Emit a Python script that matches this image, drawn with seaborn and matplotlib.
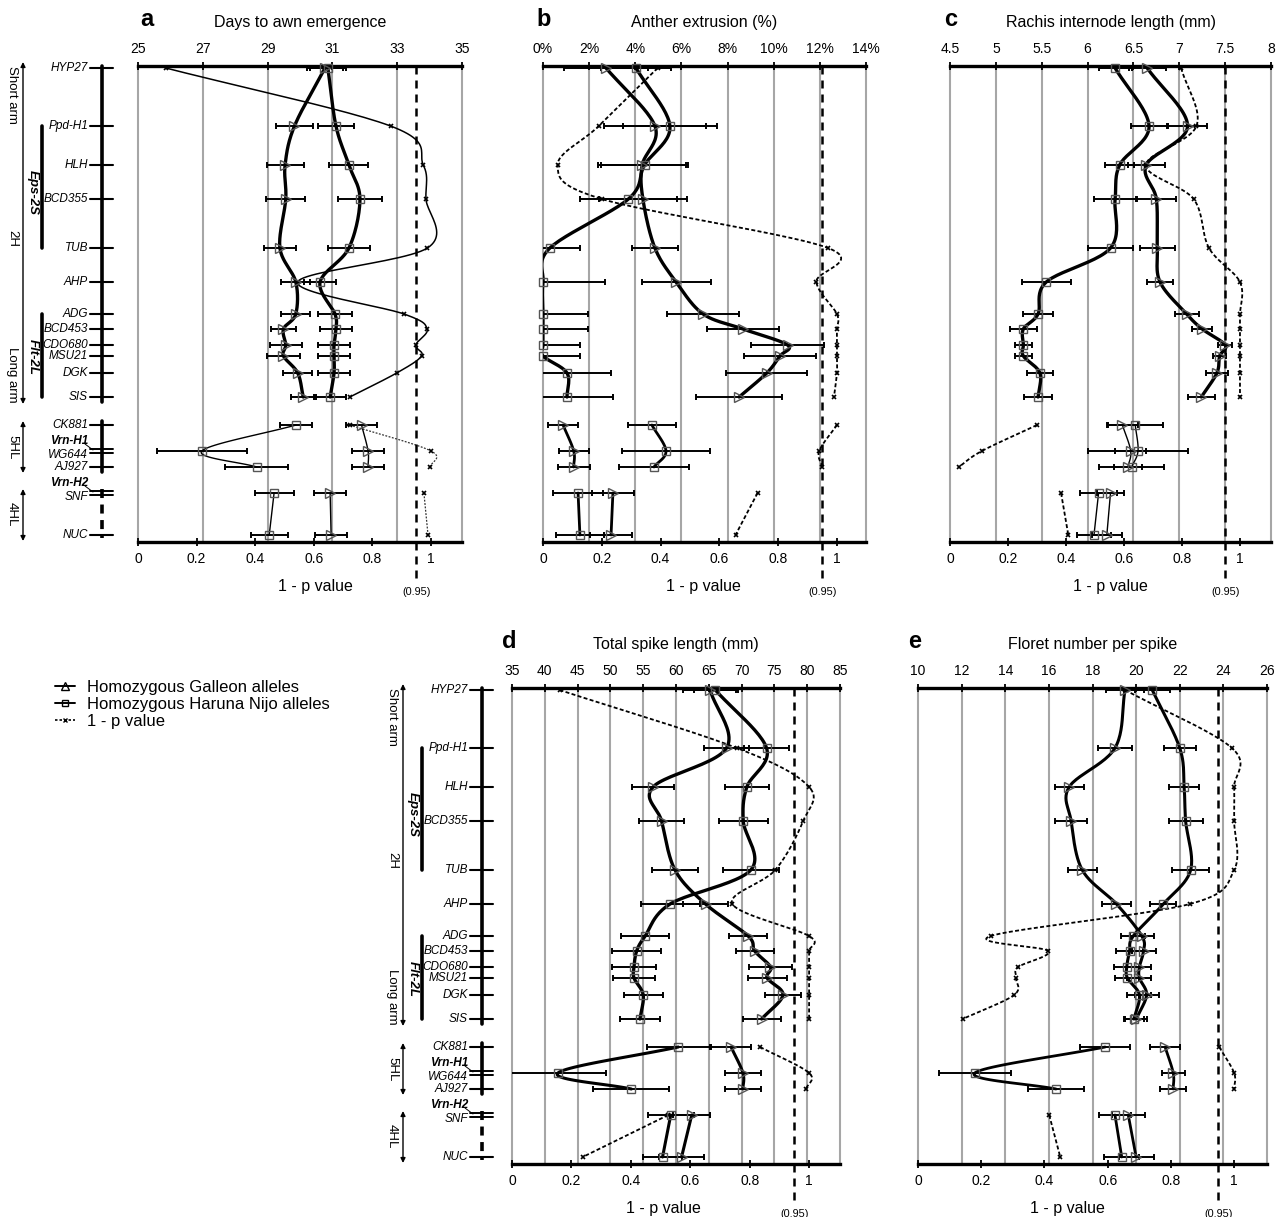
import numpy as np
import matplotlib
matplotlib.use("Agg")
import matplotlib.pyplot as plt
import seaborn as sns
from matplotlib.lines import Line2D
from matplotlib.transforms import blended_transform_factory

sns.set_theme(style="white")
plt.rcParams["font.family"] = ["Liberation Sans", "DejaVu Sans"]
plt.rcParams.update({"text.color": "black", "xtick.color": "black",
                     "axes.labelcolor": "black"})

# ---------------- data ----------------
markers = ["HYP27", "Ppd-H1", "HLH", "BCD355", "TUB", "AHP", "ADG", "BCD453",
           "CDO680", "MSU21", "DGK", "SIS", "CK881", "WG644", "AJ927", "SNF", "NUC"]
marker_pos = [0, 58, 97, 131, 180, 214, 246, 261, 277, 288, 305, 329,
              357, 383, 399, 425, 467]
groups = [(0, 12), (12, 15), (15, 17)]  # 2H, 5HL, 4HL

# a: Days to awn emergence
a_galleon = [30.77, 29.83, 29.54, 29.56, 29.38, 29.87, 29.87, 29.49, 29.56, 29.49, 29.93, 30.10,
             31.90, 32.10, 32.10, 30.93, 30.96]
a_galleon_se = [0.55, 0.58, 0.57, 0.60, 0.50, 0.45, 0.45, 0.40, 0.50, 0.50, 0.45, 0.38,
                0.47, 0.48, 0.48, 0.49, 0.50]
a_haruna = [30.86, 31.11, 31.51, 31.85, 31.51, 30.62, 31.08, 31.11, 31.05, 31.05, 31.05, 30.93,
            29.88, 26.97, 28.67, 29.20, 29.05]
a_haruna_se = [0.55, 0.55, 0.60, 0.68, 0.65, 0.50, 0.52, 0.50, 0.50, 0.50, 0.48, 0.50,
               0.50, 1.38, 0.97, 0.60, 0.57]
a_pval = [0.095, 0.862, 0.974, 0.983, 0.988, 0.545, 0.908, 0.987, 0.948, 0.968, 0.883, 0.723,
          0.723, 1.0, 0.998, 0.976, 0.99]

# b: Anther extrusion (%)
b_galleon = [2.73, 4.85, 4.30, 4.33, 4.85, 5.77, 6.94, 8.67, 10.6, 10.27, 9.70, 8.50,
             0.87, 1.33, 1.33, 3.03, 2.95]
b_galleon_se = [1.8, 2.2, 1.9, 1.9, 1.0, 1.5, 1.55, 1.55, 1.57, 1.55, 1.75, 1.87,
                0.65, 0.65, 0.70, 0.90, 0.90]
b_haruna = [4.03, 5.50, 4.40, 3.70, 0.30, 0.0, 0.0, 0.0, 0.0, 0.0, 1.04, 1.04,
            4.72, 5.33, 4.81, 1.52, 1.60]
b_haruna_se = [1.5, 2.05, 1.9, 2.1, 1.3, 2.7, 1.95, 1.95, 1.6, 1.6, 1.9, 2.0,
               1.04, 1.9, 1.5, 1.1, 1.05]
b_pval = [0.39, 0.19, 0.05, 0.20, 0.97, 0.93, 1.0, 1.0, 1.0, 1.0, 1.0, 0.99,
          1.0, 0.94, 0.95, 0.73, 0.655]

# c: Rachis internode length (mm)
c_galleon = [6.65, 7.09, 6.64, 6.75, 6.76, 6.79, 7.08, 7.25, 7.50, 7.44, 7.41, 7.24,
             6.38, 6.47, 6.44, 6.25, 6.21]
c_galleon_se = [0.20, 0.21, 0.20, 0.21, 0.19, 0.14, 0.13, 0.11, 0.08, 0.07, 0.12, 0.15,
                0.17, 0.17, 0.15, 0.15, 0.16]
c_haruna = [6.30, 6.67, 6.35, 6.30, 6.25, 5.55, 5.46, 5.30, 5.30, 5.30, 5.48, 5.46,
            6.52, 6.55, 6.48, 6.12, 6.07]
c_haruna_se = [0.18, 0.20, 0.16, 0.23, 0.25, 0.27, 0.16, 0.15, 0.09, 0.09, 0.14, 0.15,
               0.30, 0.55, 0.35, 0.20, 0.18]
c_pval = [0.797, 0.85, 0.676, 0.84, 0.893, 1.0, 1.0, 1.0, 1.0, 1.0, 1.0, 1.0,
          0.30, 0.11, 0.03, 0.383, 0.408]

# d: Total spike length (mm)
d_galleon = [65.2, 67.7, 56.5, 57.8, 59.85, 64.5, 71.0, 72.0, 74.4, 73.9, 76.3, 73.05,
             68.4, 70.2, 70.2, 62.4, 60.85]
d_galleon_se = [4.2, 3.5, 3.2, 3.4, 3.5, 3.5, 2.9, 2.9, 3.3, 3.0, 2.7, 2.9,
                3.0, 2.7, 2.7, 2.8, 3.4]
d_haruna = [66.0, 73.8, 70.8, 70.25, 71.4, 59.1, 55.3, 54.0, 53.6, 53.6, 55.0, 54.5,
            60.35, 42.0, 53.2, 59.2, 57.95]
d_haruna_se = [3.2, 3.5, 3.4, 3.7, 4.3, 4.5, 3.7, 3.7, 3.3, 3.2, 3.0, 3.0,
               4.8, 7.4, 5.8, 3.5, 3.0]
d_pval = [0.16, 0.757, 1.0, 0.98, 0.886, 0.742, 1.0, 1.0, 1.0, 1.0, 1.0, 1.0,
          0.835, 1.0, 0.99, 0.526, 0.238]

# e: Floret number per spike
e_galleon = [19.49, 19.03, 16.93, 17.02, 17.53, 19.10, 20.26, 20.34, 20.15, 20.15, 20.48, 20.0,
             21.33, 21.70, 21.70, 19.64, 20.0]
e_galleon_se = [0.85, 0.80, 0.67, 0.72, 0.67, 0.65, 0.55, 0.55, 0.55, 0.55, 0.55, 0.50,
                0.68, 0.52, 0.60, 0.75, 0.80]
e_haruna = [20.74, 22.0, 22.2, 22.27, 22.5, 21.25, 19.87, 19.70, 19.57, 19.60, 20.15, 19.90,
            18.58, 12.60, 16.33, 19.03, 19.34]
e_haruna_se = [0.80, 0.73, 0.70, 0.78, 0.86, 0.60, 0.55, 0.60, 0.60, 0.55, 0.55, 0.45,
               1.15, 1.65, 1.30, 0.75, 0.80]
e_pval = [0.655, 0.993, 1.0, 1.0, 1.0, 0.86, 0.23, 0.412, 0.317, 0.31, 0.304, 0.141,
          0.953, 1.0, 1.0, 0.415, 0.45]

titles = ["Days to awn emergence", "Anther extrusion (%)", "Rachis internode length (mm)",
          "Total spike length (mm)", "Floret number per spike"]
letters = ["a", "b", "c", "d", "e"]

# ---------------- layout ----------------
W, H = 1278, 1217
YT, YB = -2, 474
fig = plt.figure(figsize=(W / 100, H / 100), dpi=100)
fig.patch.set_facecolor("white")


def fx(x):
    return x / W


def fy(y):
    return 1 - y / H


def smooth(xs, ys, sx, n=24):
    P = np.column_stack([np.asarray(xs, float) * sx, np.asarray(ys, float)])
    if len(P) < 3:
        return P[:, 0] / sx, P[:, 1]
    pts = np.vstack([2 * P[0] - P[1], P, 2 * P[-1] - P[-2]])
    out = []
    t = np.linspace(0, 1, n, endpoint=False)[:, None]
    for i in range(1, len(pts) - 2):
        p0, p1, p2, p3 = pts[i - 1], pts[i], pts[i + 1], pts[i + 2]
        seg = 0.5 * (2 * p1 + (-p0 + p2) * t + (2 * p0 - 5 * p1 + 4 * p2 - p3) * t ** 2
                     + (-p0 + 3 * p1 - 3 * p2 + p3) * t ** 3)
        out.append(seg)
    out.append(P[-1][None, :])
    out = np.vstack(out)
    return out[:, 0] / sx, out[:, 1]


def draw_panel(i, gal, gal_se, har, har_se, pval, box, scale, pmax, fmt,
               lws, plabel_x, p2h_solid=False):
    left, right, y0 = box
    lo, hi, step = scale
    wpx = right - left
    ax = fig.add_axes([fx(left), fy(y0 + YB), wpx / W, (YB - YT) / H])
    ax.set_xlim(0, pmax)
    ax.set_ylim(YB, YT)
    ax.set_facecolor("none")
    axt = ax.twiny()
    axt.set_xlim(lo, hi)
    ax.set_yticks([])
    for s in ["top", "left", "right"]:
        ax.spines[s].set_visible(False)
        axt.spines[s if s != "top" else "bottom"].set_visible(False)
    ax.spines["bottom"].set_linewidth(2.4)
    ax.spines["bottom"].set_color("black")
    axt.spines["top"].set_linewidth(2.4)
    axt.spines["top"].set_color("black")

    pt = np.arange(0, 1.0001, 0.2)
    ax.set_xticks(pt)
    ax.set_xticklabels(["0" if v == 0 else ("1" if abs(v - 1) < 1e-9 else f"{v:.1f}") for v in pt])
    ax.tick_params(axis="x", bottom=True, top=False, direction="inout", length=6,
                   width=1.3, pad=4, labelsize=10)
    tt = np.arange(lo, hi + step / 2, step)
    axt.set_xticks(tt)
    axt.set_xticklabels([fmt(v) for v in tt])
    axt.tick_params(axis="x", top=True, bottom=False, labeltop=True, labelbottom=False,
                    direction="inout", length=6, width=1.3, pad=4.5, labelsize=10)
    axt.tick_params(axis="y", left=False, right=False, labelleft=False, labelright=False)

    # grey grid at trait ticks
    gtr = blended_transform_factory(axt.transData, ax.transData)
    for v in tt:
        ax.plot([v, v], [YT, YB], color="#a6a6a6", lw=1.5, transform=gtr, zorder=0,
                clip_on=False)

    # significance threshold
    ax.plot([0.95, 0.95], [YT, YB + 38], color="black", lw=1.8, ls=(0, (3.2, 2.4)),
            clip_on=False, zorder=6)
    ax.text(0.95, YB + 50, "(0.95)", ha="center", va="center", fontsize=7.8, clip_on=False)
    fig.text(fx(plabel_x), fy(y0 + 518), "1 - p value", ha="center", va="center", fontsize=11.5)
    fig.text(fx((left + right) / 2), fy(y0 - 45), titles[i], ha="center", va="center",
             fontsize=11.5)
    fig.text(fx(left + (9 if i == 0 else 1 if i < 3 else -3)), fy(y0 - 48), letters[i],
             ha="center", va="center", fontsize=17, fontweight="bold")

    pos = np.asarray(marker_pos, float)
    sx_t = wpx / (hi - lo)
    sx_p = wpx / pmax
    for g, (s0, s1) in enumerate(groups):
        yy = pos[s0:s1]
        for vals in (gal, har):
            xs, ys = smooth(vals[s0:s1], yy, sx_t)
            sns.lineplot(x=xs, y=ys, sort=False, estimator=None, ax=axt, color="black",
                         lw=lws[g], legend=False, zorder=3)
        xs, ys = smooth(pval[s0:s1], yy, sx_p)
        if i == 0 and g == 0 and p2h_solid:
            sns.lineplot(x=xs, y=ys, sort=False, estimator=None, ax=ax, color="black",
                         lw=1.1, legend=False, zorder=3)
        elif i == 0:
            ax.plot(xs, ys, color="#333333", lw=0.9, ls=(0, (1.5, 1.2)), zorder=3)
        else:
            ax.plot(xs, ys, color="black", lw=1.3, ls=(0, (2.2, 1.3)), zorder=3)
        ax.plot(pval[s0:s1], yy, ls="none", marker="x", ms=3, mew=1.2, color="black",
                zorder=4, clip_on=False)

    axt.errorbar(gal, pos, xerr=gal_se, fmt="none", ecolor="black", elinewidth=1.4,
                 capsize=2.5, capthick=1.4, zorder=2)
    axt.errorbar(har, pos, xerr=har_se, fmt="none", ecolor="black", elinewidth=1.4,
                 capsize=2.5, capthick=1.4, zorder=2)
    axt.plot(gal, pos, ls="none", marker=">", ms=6.5, mfc="none", mec="#555555", mew=1.0,
             zorder=5, clip_on=False)
    axt.plot(har, pos, ls="none", marker="s", ms=6, mfc="none", mec="#555555", mew=1.0,
             zorder=5, clip_on=False)
    axt.set_ylim(YB, YT)
    return ax


def draw_chrom(x0, width, y0):
    cax = fig.add_axes([fx(x0), fy(y0 + YB), width / W, (YB - YT) / H])
    cax.set_xlim(0, width)
    cax.set_ylim(YB, YT)
    cax.axis("off")
    pos = marker_pos
    k = dict(color="black", clip_on=False)
    # chromosome backbones
    cax.plot([102, 102], [-2, pos[11] + 5], lw=2.6, **k)
    cax.plot([102, 102], [pos[12] - 4, pos[14] + 5], lw=2.6, **k)
    cax.plot([102, 102], [pos[15] - 4, pos[16] + 3], lw=2.6, ls=(0, (2.5, 1.8)), **k)
    for j, (name, y) in enumerate(zip(markers, pos)):
        if name in ("WG644", "SNF"):
            cax.plot([90, 113], [y - 2, y - 2], lw=1.4, **k)
            cax.plot([90, 113], [y + 1.5, y + 1.5], lw=1.4, **k)
            cax.text(88, y + 4, name, ha="right", va="center", fontsize=8.5, style="italic")
            extra = "Vrn-H1" if name == "WG644" else "Vrn-H2"
            cax.text(88, y - 10, extra, ha="right", va="center", fontsize=8.5,
                     style="italic", fontweight="bold")
            cax.plot([85, 93], [y - 7, y - 1], lw=0.7, **k)
        else:
            cax.plot([90, 113], [y, y], lw=1.5, **k)
            cax.text(88, y, name, ha="right", va="center", fontsize=8.5, style="italic")
    ap = dict(arrowstyle="<|-|>", lw=1.0, color="black", mutation_scale=7,
              shrinkA=0, shrinkB=0)
    cax.annotate("", xy=(23, -6), xytext=(23, 336), arrowprops=ap, annotation_clip=False)
    cax.annotate("", xy=(23, 353), xytext=(23, 405), arrowprops=ap, annotation_clip=False)
    cax.annotate("", xy=(23, 421), xytext=(23, 473), arrowprops=ap, annotation_clip=False)
    tk = dict(rotation=270, ha="center", va="center", fontsize=9.5, clip_on=False)
    cax.text(12, 27, "Short arm", **tk)
    cax.text(12, 170, "2H", **tk)
    cax.text(12, 307, "Long arm", **tk)
    cax.text(12, 379, "5HL", **tk)
    cax.text(12, 446, "4HL", **tk)
    cax.plot([42, 42], [pos[1], pos[4]], lw=2.6, **k)
    cax.plot([42, 42], [pos[6], pos[11]], lw=2.6, **k)
    cax.text(33, 124, "Eps-2S", rotation=270, ha="center", va="center", fontsize=9.5,
             style="italic", fontweight="bold")
    cax.text(33, 289, "Flt-2L", rotation=270, ha="center", va="center", fontsize=9.5,
             style="italic", fontweight="bold")


fmt_int = lambda v: f"{v:.0f}"
fmt_pct = lambda v: f"{v:.0f}%"
fmt_g = lambda v: f"{v:g}"

draw_panel(0, a_galleon, a_galleon_se, a_haruna, a_haruna_se, a_pval,
           (138, 462, 68), (25, 35, 2), 1.106, fmt_int, (2.4, 1.0, 1.0), 315, p2h_solid=True)
draw_panel(1, b_galleon, b_galleon_se, b_haruna, b_haruna_se, b_pval,
           (543, 866, 68), (0, 14, 2), 1.099, fmt_pct, (2.4, 2.0, 2.0), 703)
draw_panel(2, c_galleon, c_galleon_se, c_haruna, c_haruna_se, c_pval,
           (950, 1271, 68), (4.5, 8, 0.5), 1.107, fmt_g, (2.4, 1.0, 1.0), 1110)
draw_panel(3, d_galleon, d_galleon_se, d_haruna, d_haruna_se, d_pval,
           (512, 840, 690), (35, 85, 5), 1.104, fmt_int, (2.4, 2.2, 2.2), 663)
draw_panel(4, e_galleon, e_galleon_se, e_haruna, e_haruna_se, e_pval,
           (918, 1267, 690), (10, 26, 2), 1.104, fmt_int, (2.2, 2.0, 2.0), 1067)

draw_chrom(0, 138, 68)
draw_chrom(380, 132, 690)

handles = [
    Line2D([0], [0], color="black", lw=1.4, marker="^", ms=5.5, mfc="none", mec="black"),
    Line2D([0], [0], color="black", lw=1.4, marker="s", ms=5, mfc="none", mec="black"),
    Line2D([0], [0], color="black", lw=1.2, ls=(0, (1.5, 1.2)), marker="x", ms=2.5),
]
fig.legend(handles, ["Homozygous Galleon alleles", "Homozygous Haruna Nijo alleles",
                     "1 - p value"],
           loc="upper left", bbox_to_anchor=(fx(55), fy(680)), frameon=False,
           fontsize=12, handlelength=1.2, handletextpad=0.7, labelspacing=0.12,
           borderaxespad=0, borderpad=0)

fig.savefig("out.png", dpi=100, facecolor="white")
